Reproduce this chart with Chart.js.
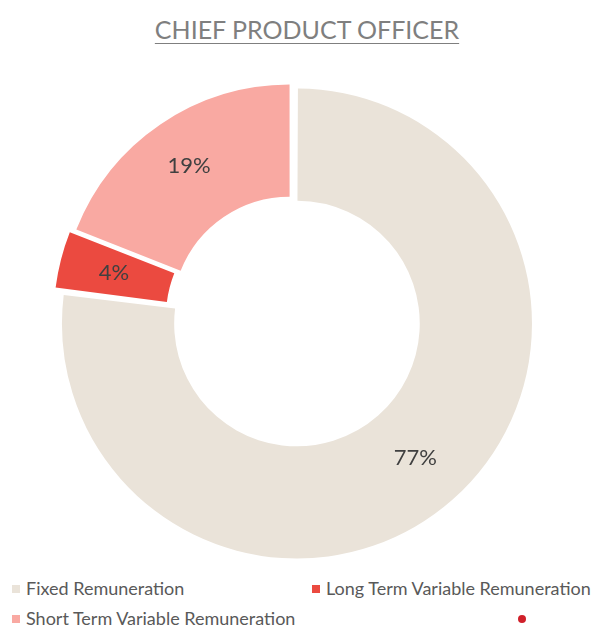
<!DOCTYPE html>
<html>
<head>
<meta charset="utf-8">
<script src="https://cdn.jsdelivr.net/npm/chart.js@4.4.0/dist/chart.umd.min.js"></script>
<style>
    html, body { margin: 0; padding: 0; background: #ffffff; }
    body { width: 597px; height: 631px; position: relative; overflow: hidden; font-family: Lato, "Open Sans", sans-serif; }
    #titel {
        position: absolute; top: 14px; left: 0; width: 614px; text-align: center;
        font-size: 25px; color: #7f7f7f; text-decoration: underline; text-underline-offset: 4px;
        text-decoration-thickness: 1px;
    }
    #wrap { position: absolute; left: 52px; top: 73px; width: 482px; height: 492px; }
    #legend { position: absolute; left: 0; top: 577px; width: 597px; font-size: 18px; color: #595959; }
    .item { position: absolute; white-space: nowrap; }
    .box { display: inline-block; width: 8px; height: 8px; margin-right: 6px; vertical-align: middle; position: relative; top: -1px; }
</style>
</head>
<body>
<div id="titel">CHIEF PRODUCT OFFICER</div>
<div id="wrap"><canvas id="donut"></canvas></div>
<div id="legend"></div>
<script>
// Kategorier och värden (procent)
const kategorier = ['Fixed Remuneration', 'Long Term Variable Remuneration', 'Short Term Variable Remuneration', ''];
const andelar = [77, 4, 19, 0];
const farger = ['#EAE3D9', '#EB4A40', '#F9A9A2', '#D0202A'];

// Rita procentetiketter i mitten av varje båge
const etikettPlugin = {
    id: 'etiketter',
    afterDatasetsDraw(chart) {
        const ctx = chart.ctx;
        const meta = chart.getDatasetMeta(0);
        ctx.save();
        ctx.font = '22px Lato, "Open Sans", sans-serif';
        ctx.fillStyle = '#404040';
        ctx.textAlign = 'center';
        ctx.textBaseline = 'middle';
        meta.data.forEach((arc, i) => {
            if (!andelar[i]) return;
            const pos = arc.tooltipPosition();
            ctx.fillText(andelar[i] + '%', pos.x, pos.y);
        });
        ctx.restore();
    }
};

const chart = new Chart(document.getElementById('donut'), {
    type: 'doughnut',
    data: {
        labels: kategorier,
        datasets: [{
            data: andelar,
            backgroundColor: farger,
            borderColor: '#ffffff',
            borderWidth: 0,
            offset: 24
        }]
    },
    options: {
        responsive: true,
        maintainAspectRatio: false,
        animation: false,
        cutout: '51%',
        plugins: {
            legend: { display: false },
            tooltip: { enabled: false }
        }
    },
    plugins: [etikettPlugin]
});

// Bygg legenden i två kolumner
const legendPos = [[12, 0], [312, 0], [12, 30], [518, 30]];
const legendEl = document.getElementById('legend');
kategorier.forEach((namn, i) => {
    const div = document.createElement('div');
    div.className = 'item';
    div.style.left = legendPos[i][0] + 'px';
    div.style.top = legendPos[i][1] + 'px';
    const box = document.createElement('span');
    box.className = 'box';
    box.style.background = farger[i];
    if (!namn) box.style.borderRadius = '50%';
    div.appendChild(box);
    div.appendChild(document.createTextNode(namn));
    legendEl.appendChild(div);
});
</script>
</body>
</html>
